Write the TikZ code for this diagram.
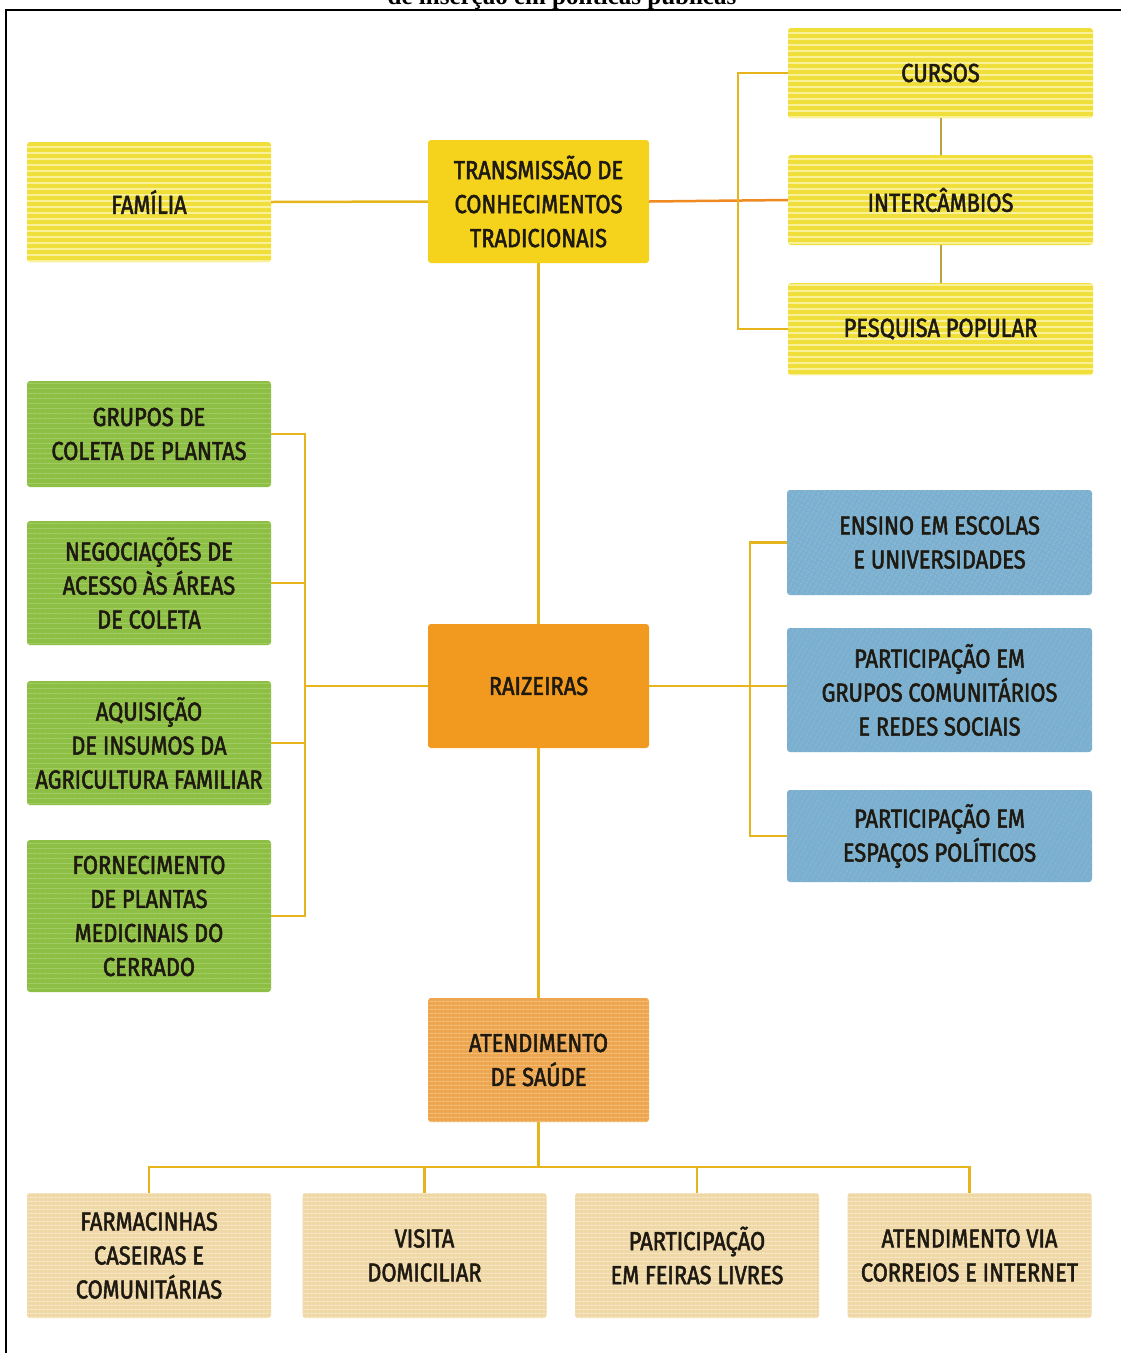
\documentclass[tikz,border=0pt]{standalone}
\usepackage{fontspec}
\setmainfont{Fira Sans}[FakeStretch=0.84,FakeBold=2]
\newfontfamily\titlefont{Liberation Serif}
\usepackage{tikz}
\usetikzlibrary{positioning,calc,patterns.meta}
\definecolor{ink}{HTML}{1E1A12}
\definecolor{gold}{HTML}{E6B41C}
\definecolor{flame}{HTML}{EE8A20}
\definecolor{lemon}{HTML}{F0DF3A}
\definecolor{lemonstripe}{HTML}{F9F09A}
\definecolor{sun}{HTML}{F5D31C}
\definecolor{leaf}{HTML}{8DBF45}
\definecolor{leafstripe}{HTML}{A3CC66}
\definecolor{amber}{HTML}{F29A1F}
\definecolor{sky}{HTML}{7BAFCF}
\definecolor{skystripe}{HTML}{8FBCD7}
\definecolor{apricot}{HTML}{EDA64F}
\definecolor{apricotstripe}{HTML}{F3BF7C}
\definecolor{sand}{HTML}{F0D7A6}
\definecolor{sandstripe}{HTML}{F7E8CA}

\begin{document}
\begin{tikzpicture}[x=1pt,y=-1pt,font=\fontsize{26}{34}\selectfont]
  \tikzset{
    card/.style={rounded corners=3pt,align=center,text=ink,inner sep=2pt,minimum width=244pt},
    wide/.style={card,minimum width=305pt},
    lemonbox/.style={fill=lemon,postaction={pattern={Lines[angle=0,distance=6pt,line width=1.6pt]},pattern color=lemonstripe}},
    sunbox/.style={card,minimum width=221pt,fill=sun},
    leafbox/.style={card,fill=leaf,postaction={pattern={Lines[angle=0,distance=5pt,line width=0.8pt]},pattern color=leafstripe}},
    amberbox/.style={card,minimum width=221pt,fill=amber},
    skybox/.style={wide,fill=sky,postaction={pattern={Lines[angle=60,distance=4pt,line width=0.6pt]},pattern color=skystripe}},
    apricotbox/.style={card,minimum width=221pt,fill=apricot,postaction={pattern={Lines[angle=0,distance=4pt,line width=1pt]},pattern color=apricotstripe}},
    sandbox/.style={card,fill=sand,postaction={pattern={Lines[angle=0,distance=4pt,line width=1.2pt]},pattern color=sandstripe}},
    link/.style={draw=gold,line width=2.5pt},
  }
  \useasboundingbox (0,0) rectangle (1121,1353);
  % title cut by the page and frame
  \node[anchor=base,font=\titlefont\bfseries\fontsize{25}{28}\selectfont] (title) at (562,4) {de inserção em políticas públicas};
  \draw[line width=2.5pt] (6,1353) -- (6,10) -- (1121,10);

  % top row
  \node[card,lemonbox,minimum height=120pt] (familia) at (149,202) {FAMÍLIA};
  \node[sunbox,minimum height=123pt] (trans) at (538.5,201.5) {TRANSMISSÃO DE\\CONHECIMENTOS\\TRADICIONAIS};
  \node[wide,lemonbox,minimum height=90pt] (cursos) at (940.5,73) {CURSOS};
  \node[wide,lemonbox,minimum height=90pt] (inter) at (940.5,200) {INTERCÂMBIOS};
  \node[wide,lemonbox,minimum height=92pt] (pesq) at (940.5,329) {PESQUISA POPULAR};

  % left column
  \node[leafbox,minimum height=106pt] (grupos) at (149,434) {GRUPOS DE\\COLETA DE PLANTAS};
  \node[leafbox,minimum height=124pt] (negoc) at (149,583) {NEGOCIAÇÕES DE\\ACESSO ÀS ÁREAS\\DE COLETA};
  \node[leafbox,minimum height=124pt] (aquis) at (149,743) {AQUISIÇÃO\\DE INSUMOS DA\\AGRICULTURA FAMILIAR};
  \node[leafbox,minimum height=152pt] (fornec) at (149,916) {FORNECIMENTO\\DE PLANTAS\\MEDICINAIS DO\\CERRADO};

  % centre and right column
  \node[amberbox,minimum height=124pt] (raiz) at (538.5,686) {RAIZEIRAS};
  \node[skybox,minimum height=105pt] (ensino) at (939.5,542.5) {ENSINO EM ESCOLAS\\E UNIVERSIDADES};
  \node[skybox,minimum height=124pt] (grupcom) at (939.5,690) {PARTICIPAÇÃO EM\\GRUPOS COMUNITÁRIOS\\E REDES SOCIAIS};
  \node[skybox,minimum height=92pt] (espacos) at (939.5,836) {PARTICIPAÇÃO EM\\ESPAÇOS POLÍTICOS};

  % health row
  \node[apricotbox,minimum height=124pt] (saude) at (538.5,1060) {ATENDIMENTO\\DE SAÚDE};
  \node[sandbox,minimum height=125pt] (farm) at (149,1255.5) {FARMACINHAS\\CASEIRAS E\\COMUNITÁRIAS};
  \node[sandbox,minimum height=125pt] (visita) at (424.5,1255.5) {VISITA\\DOMICILIAR};
  \node[sandbox,minimum height=125pt] (feiras) at (697,1255.5) {PARTICIPAÇÃO\\EM FEIRAS LIVRES};
  \node[sandbox,minimum height=125pt] (via) at (969.5,1255.5) {ATENDIMENTO VIA\\CORREIOS E INTERNET};

  % connectors
  \draw[link] (familia.east) -- (trans.west);
  \draw[link,draw=flame] (trans.east) -- (inter.west);
  \draw[link] (cursos.west) -- ++(-50,0) |- (pesq.west);
  \draw[draw=gold!60!gray,line width=2pt] (cursos.south) -- (inter.north);
  \draw[draw=gold!60!gray,line width=2pt] (inter.south) -- (pesq.north);
  \draw[link] (trans.south) -- (raiz.north);
  \draw[link] (grupos.east) -- ++(34,0) coordinate (lb) |- (fornec.east);
  \draw[link] (negoc.east) -- (negoc.east -| lb);
  \draw[link] (aquis.east) -- (aquis.east -| lb);
  \draw[link] (raiz.west) -- (raiz.west -| lb);
  \draw[link] (ensino.west) -- ++(-37,0) |- (espacos.west);
  \draw[link] (raiz.east) -- (raiz.east -| grupcom.west);
  \draw[link] (raiz.south) -- (saude.north);
  \coordinate (bus) at (538.5,1167);
  \draw[link] (saude.south) -- (bus);
  \draw[link] (farm.north) |- (bus) -| (via.north);
  \draw[link] (visita.north) -- (visita.north |- bus);
  \draw[link] (feiras.north) -- (feiras.north |- bus);
\end{tikzpicture}
\end{document}
